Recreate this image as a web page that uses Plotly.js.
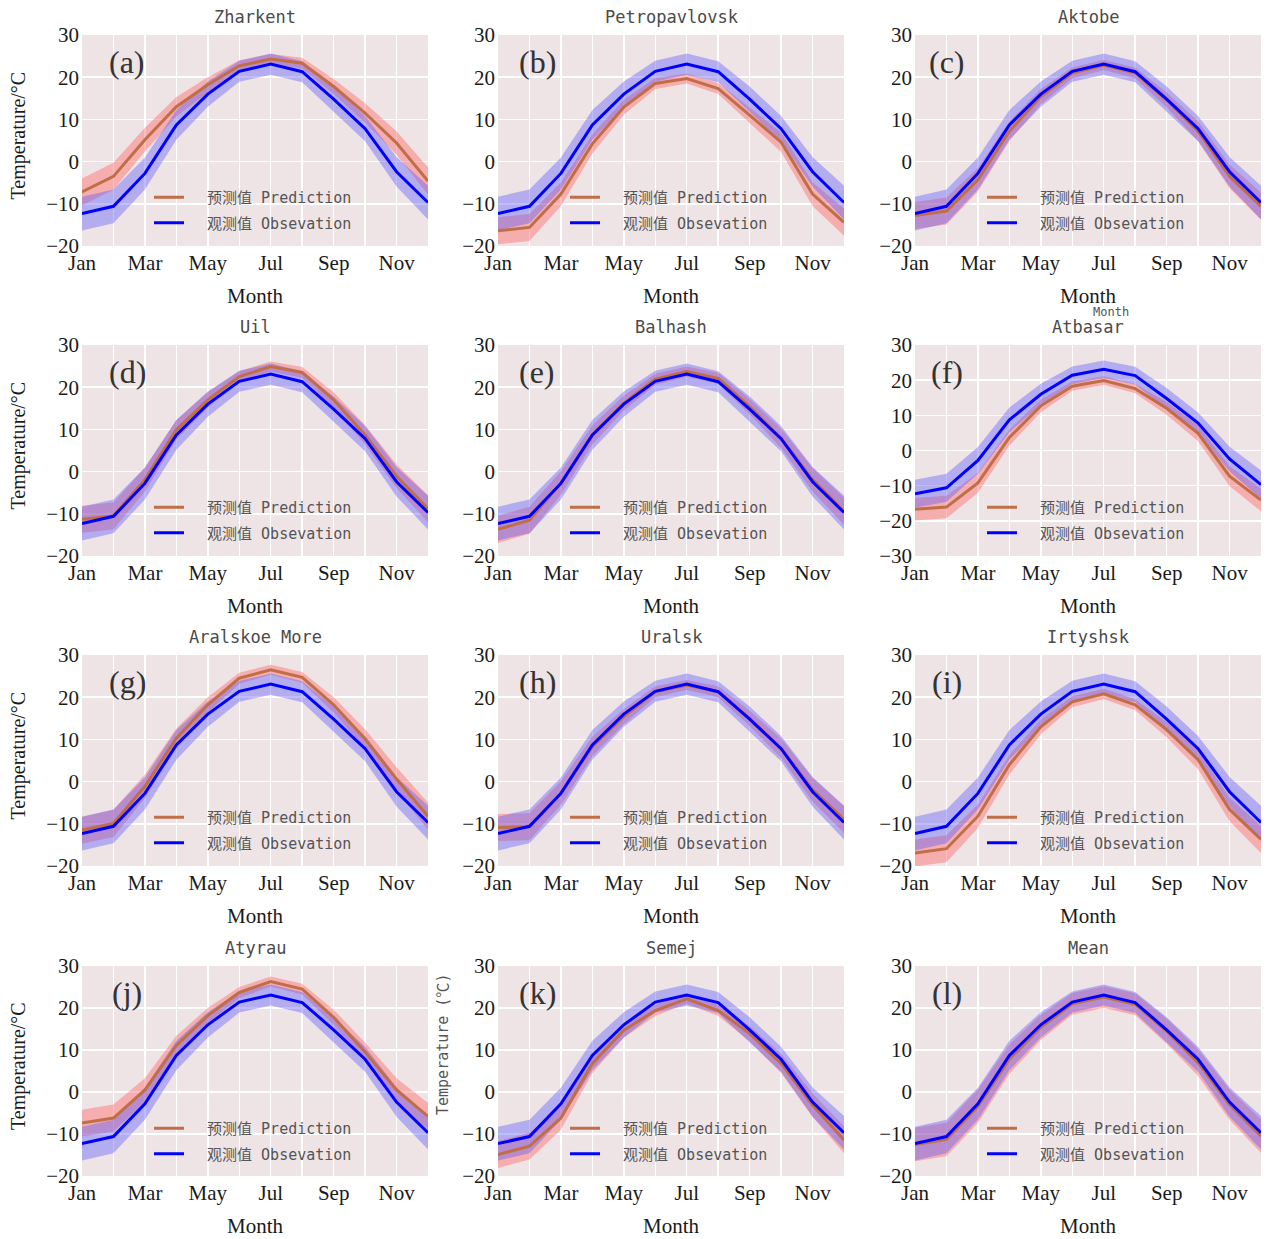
<!DOCTYPE html>
<html>
<head>
<meta charset="utf-8">
<script src="https://cdn.plot.ly/plotly-3.0.1.min.js"></script>
<style>html,body{margin:0;padding:0;background:#fff;}</style>
</head>
<body>
<div id="chart" style="width:1266px;height:1239px;"></div>
<script>
// ---------------- data ----------------
const monthNum = [1,2,3,4,5,6,7,8,9,10,11,12];
const monthTickText = ['Jan','','Mar','','May','','Jul','','Sep','','Nov',''];
const stations = ['Zharkent','Petropavlovsk','Aktobe','Uil','Balhash','Atbasar',
                  'Aralskoe More','Uralsk','Irtyshsk','Atyrau','Semej','Mean'];
const panelLabels = ['(a)','(b)','(c)','(d)','(e)','(f)','(g)','(h)','(i)','(j)','(k)','(l)'];

// observed mean (same in every panel) and its spread
const obsMean   = [-12.3,-10.6,-2.8,8.7,16.0,21.4,23.1,21.3,14.8,7.8,-2.4,-9.7];
const obsSpread = [4.0,4.0,3.8,3.5,3.0,2.5,2.5,2.5,3.0,3.0,3.5,4.0];

// predicted means per station
const predZharkent      = [-7.2,-3.5,5.2,13.0,18.2,22.7,24.3,23.3,17.8,11.5,4.4,-4.6];
const predPetropavlovsk = [-16.4,-15.6,-7.7,4.2,12.9,18.5,19.7,17.3,11.0,4.6,-7.7,-14.4];
const predAktobe        = [-12.8,-11.7,-4.3,7.2,15.4,21.0,22.9,21.0,14.6,7.2,-3.5,-10.6];
const predUil           = [-11.3,-10.5,-1.9,9.9,17.0,22.5,24.9,23.5,17.0,8.7,-1.1,-8.8];
const predBalhash       = [-13.7,-11.5,-2.7,8.7,16.2,21.9,23.7,22.1,15.4,7.9,-1.9,-9.4];
const predAtbasar       = [-16.7,-16.1,-9.2,3.7,12.7,18.3,19.9,17.6,12.0,4.9,-7.3,-14.1];
const predAralskoe      = [-11.5,-9.9,-1.1,10.3,18.2,24.5,26.5,24.7,18.2,10.1,0.6,-8.2];
const predUralsk        = [-10.9,-10.7,-2.7,8.3,15.4,21.3,22.9,21.3,15.0,7.9,-1.9,-9.0];
const predIrtyshsk      = [-16.9,-15.9,-8.2,4.0,13.0,18.9,20.8,18.2,12.3,5.2,-6.6,-13.7];
const predAtyrau        = [-7.4,-6.2,0.5,11.1,18.2,23.7,26.3,24.5,17.8,9.5,0.5,-5.8];
const predSemej         = [-14.9,-12.9,-6.2,6.8,14.7,19.4,22.2,19.4,13.9,6.8,-3.1,-11.4];
const predMean          = [-12.5,-11.3,-3.4,7.8,15.4,21.0,22.6,20.9,14.5,7.0,-3.0,-10.5];

// prediction spread (stations) and for the mean panel
const predSpreadStation = [3.2,3.2,2.8,2.3,1.8,1.3,1.2,1.3,1.8,2.3,2.8,3.2];
const predSpreadMean    = [4.0,4.0,4.0,3.5,3.0,2.6,2.6,2.6,3.0,3.2,3.6,4.0];

const predSeries = [predZharkent,predPetropavlovsk,predAktobe,predUil,predBalhash,predAtbasar,
                    predAralskoe,predUralsk,predIrtyshsk,predAtyrau,predSemej,predMean];
const predSpreads = [predSpreadStation,predSpreadStation,predSpreadStation,predSpreadStation,
                     predSpreadStation,predSpreadStation,predSpreadStation,predSpreadStation,
                     predSpreadStation,predSpreadStation,predSpreadStation,predSpreadMean];
const yRanges = [[-20,30],[-20,30],[-20,30],[-20,30],[-20,30],[-30,30],
                 [-20,30],[-20,30],[-20,30],[-20,30],[-20,30],[-20,30]];

const legendPred = '\u00a0\u00a0预测值 Prediction';
const legendObs  = '\u00a0\u00a0观测值 Obsevation';

// ---------------- layout geometry (pixels) ----------------
const W = 1266, H = 1239;
const colX = [[82,428],[498,844],[915,1261]];
const rowY = [[35,246],[345,556],[655,866],[966,1176]];
const labelOffset = [45,39,32];

const SERIF = 'Liberation Serif, Times New Roman, serif';
const MONO = 'DejaVu Sans Mono, Noto Sans CJK SC, monospace';
const BG = '#eee4e6';
const PRED_LINE = '#c06e46';
const OBS_LINE = '#0000ff';
const PRED_FILL = 'rgba(255,90,90,0.40)';
const OBS_FILL = 'rgba(90,90,255,0.40)';

const px = x => x / W;
const py = y => 1 - y / H;

const traces = [];
const layout = {
  width: W, height: H,
  margin: {l:0, r:0, t:0, b:0},
  paper_bgcolor: '#ffffff',
  showlegend: true,
  annotations: [],
  shapes: []
};

function band(mean, spread) {
  const up = mean.map((v,i) => v + spread[i]);
  const lo = mean.map((v,i) => v - spread[i]);
  return {x: monthNum.concat(monthNum.slice().reverse()),
          y: up.concat(lo.slice().reverse())};
}

stations.forEach((name, i) => {
  const r = Math.floor(i / 3), c = i % 3;
  const n = i + 1;
  const xa = n === 1 ? 'x' : 'x' + n;
  const ya = n === 1 ? 'y' : 'y' + n;
  const lg = n === 1 ? 'legend' : 'legend' + n;
  const [x0, x1] = colX[c];
  const [y0, y1] = rowY[r];

  layout[n === 1 ? 'xaxis' : 'xaxis' + n] = {
    domain: [px(x0), px(x1)], anchor: ya,
    range: [1, 12], tickmode: 'array', tickvals: monthNum, ticktext: monthTickText,
    showgrid: true, gridcolor: '#ffffff', gridwidth: 1.5, zeroline: false,
    showline: false, ticks: '', ticklabelstandoff: 2,
    tickfont: {family: SERIF, size: 21, color: '#1a1a1a'}
  };
  layout[n === 1 ? 'yaxis' : 'yaxis' + n] = {
    domain: [py(y1), py(y0)], anchor: xa,
    range: yRanges[i], dtick: 10, tick0: 0,
    showgrid: true, gridcolor: '#ffffff', gridwidth: 1.5, zeroline: false,
    showline: false, ticks: '', ticklabelstandoff: 2,
    tickfont: {family: SERIF, size: 21, color: '#1a1a1a'}
  };
  layout.shapes.push({type: 'rect', xref: 'paper', yref: 'paper', layer: 'below',
    x0: px(x0), x1: px(x1), y0: py(y1), y1: py(y0), fillcolor: BG, line: {width: 0}});

  const pb = band(predSeries[i], predSpreads[i]);
  const ob = band(obsMean, obsSpread);
  traces.push({x: pb.x, y: pb.y, xaxis: xa, yaxis: ya, type: 'scatter', mode: 'lines',
    fill: 'toself', fillcolor: PRED_FILL, line: {width: 0}, showlegend: false, hoverinfo: 'skip'});
  traces.push({x: ob.x, y: ob.y, xaxis: xa, yaxis: ya, type: 'scatter', mode: 'lines',
    fill: 'toself', fillcolor: OBS_FILL, line: {width: 0}, showlegend: false, hoverinfo: 'skip'});
  traces.push({x: monthNum, y: predSeries[i], xaxis: xa, yaxis: ya, type: 'scatter', mode: 'lines',
    name: legendPred, line: {color: PRED_LINE, width: 3}, legend: lg, legendgroup: 'p' + n});
  traces.push({x: monthNum, y: obsMean, xaxis: xa, yaxis: ya, type: 'scatter', mode: 'lines',
    name: legendObs, line: {color: OBS_LINE, width: 3}, legend: lg, legendgroup: 'o' + n});

  layout[lg] = {
    x: px(x0 + 67), y: py(y0 + 146), xanchor: 'left', yanchor: 'top',
    xref: 'paper', yref: 'paper',
    bgcolor: 'rgba(0,0,0,0)', borderwidth: 0,
    traceorder: 'grouped', tracegroupgap: 3,
    font: {family: MONO, size: 15, color: '#555555'}
  };

  const cx = (x0 + x1) / 2;
  layout.annotations.push({text: name, xref: 'paper', yref: 'paper', x: px(cx), y: py(y0 - 18),
    xanchor: 'center', yanchor: 'middle', showarrow: false,
    font: {family: MONO, size: 17, color: '#4a4a4a'}});
  layout.annotations.push({text: panelLabels[i], xref: 'paper', yref: 'paper',
    x: px(x0 + labelOffset[c]), y: py(y0 + 27), xanchor: 'center', yanchor: 'middle',
    showarrow: false, font: {family: SERIF, size: 32, color: '#333333'}});
  layout.annotations.push({text: 'Month', xref: 'paper', yref: 'paper', x: px(cx), y: py(y1 + 50),
    xanchor: 'center', yanchor: 'middle', showarrow: false,
    font: {family: SERIF, size: 21, color: '#1a1a1a'}});
  if (c === 0) {
    layout.annotations.push({text: 'Temperature/°C', xref: 'paper', yref: 'paper',
      x: px(18), y: py((y0 + y1) / 2 - 5), xanchor: 'center', yanchor: 'middle', textangle: -90,
      showarrow: false, font: {family: SERIF, size: 20, color: '#1a1a1a'}});
  }
  if (i === 10) {
    layout.annotations.push({text: 'Temperature (℃)', xref: 'paper', yref: 'paper',
      x: px(443), y: py(1045), xanchor: 'center', yanchor: 'middle', textangle: -90,
      showarrow: false, font: {family: MONO, size: 15, color: '#555555'}});
  }
});

// stray small label above Atbasar
layout.annotations.push({text: 'Month', xref: 'paper', yref: 'paper', x: px(1111), y: py(312),
  xanchor: 'center', yanchor: 'middle', showarrow: false,
  font: {family: MONO, size: 12, color: '#555555'}});

Plotly.newPlot('chart', traces, layout, {displayModeBar: false, staticPlot: true});
</script>
</body>
</html>
